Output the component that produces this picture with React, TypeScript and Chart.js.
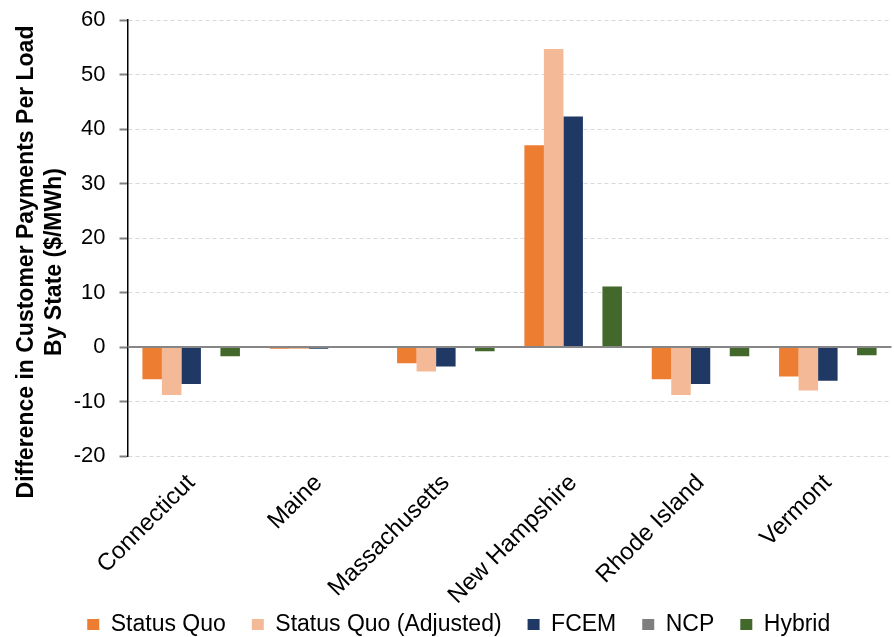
import React, { useEffect, useRef } from "react";
import { Chart, ChartConfiguration, Plugin, registerables } from "chart.js";

Chart.register(...registerables);

const states = ["Connecticut", "Maine", "Massachusetts", "New Hampshire", "Rhode Island", "Vermont"];
const statusQuo = [-5.9, -0.3, -3.0, 37.0, -5.9, -5.4];
const statusQuoAdjusted = [-8.8, -0.35, -4.5, 54.7, -8.8, -8.0];
const fcem = [-6.8, -0.3, -3.6, 42.3, -6.8, -6.2];
const ncp = [0, 0, 0, 0, 0, 0];
const hybrid = [-1.7, -0.15, -0.8, 11.1, -1.7, -1.5];

const yTitle = ["Difference in Customer Payments Per Load", "By State ($/MWh)"];
const FONT = "'Liberation Sans', Arial, sans-serif";

// solid zero line over the bars
const zeroLine: Plugin = {
    id: "zeroLine",
    afterDatasetsDraw(chart) {
        const { ctx, chartArea, scales } = chart;
        const y = scales.y.getPixelForValue(0);
        ctx.save();
        ctx.strokeStyle = "#868686";
        ctx.lineWidth = 2;
        ctx.beginPath();
        ctx.moveTo(chartArea.left, y);
        ctx.lineTo(chartArea.right, y);
        ctx.stroke();
        ctx.restore();
    },
};

// let the slanted state names run down past the axis box (they overlap the legend band in the original),
// and nudge the legend row a little right like the original
const layoutTweaks: Plugin = {
    id: "layoutTweaks",
    afterLayout(chart) {
        chart.scales.x.bottom = chart.height;
        if (chart.legend) {
            chart.legend.left += 13;
            chart.legend.right += 13;
        }
    },
};

// two-line bold axis title, placed like the original
const axisTitle: Plugin = {
    id: "axisTitle",
    afterDraw(chart) {
        const { ctx } = chart;
        ctx.save();
        ctx.fillStyle = "#000";
        ctx.font = `bold 23px ${FONT}`;
        ctx.textAlign = "center";
        ctx.textBaseline = "middle";
        ctx.translate(0, 262);
        ctx.rotate(-Math.PI / 2);
        ctx.fillText(yTitle[0], 0, 27);
        ctx.fillText(yTitle[1], 0, 55);
        ctx.restore();
    },
};

const App: React.FC = () => {
    const chartRef = useRef<HTMLCanvasElement>(null);
    const chartInstance = useRef<Chart | null>(null);

    useEffect(() => {
        if (!chartRef.current) return;
        const ctx = chartRef.current.getContext("2d");
        if (!ctx) return;
        if (chartInstance.current) chartInstance.current.destroy();

        const config: ChartConfiguration<"bar"> = {
            type: "bar",
            data: {
                labels: states,
                datasets: [
                    { label: "Status Quo", data: statusQuo, backgroundColor: "#ED7D31" },
                    { label: "Status Quo (Adjusted)", data: statusQuoAdjusted, backgroundColor: "#F4B996" },
                    { label: "FCEM", data: fcem, backgroundColor: "#203864" },
                    { label: "NCP", data: ncp, backgroundColor: "#7F7F7F" },
                    { label: "Hybrid", data: hybrid, backgroundColor: "#43682B" },
                ],
            },
            options: {
                animation: false,
                responsive: true,
                maintainAspectRatio: false,
                datasets: {
                    bar: { categoryPercentage: 0.766, barPercentage: 1, borderWidth: 0 },
                },
                layout: { padding: { top: 20, right: 2.5, bottom: -9, left: 0 } },
                scales: {
                    x: {
                        grid: { display: false, drawTicks: false },
                        border: { display: false },
                        ticks: {
                            color: "#000",
                            font: { family: FONT, size: 24 },
                            maxRotation: 45,
                            minRotation: 45,
                            padding: 13,
                        },
                        afterFit: (scale) => {
                            scale.height = 131;
                        },
                    },
                    y: {
                        min: -20,
                        max: 60,
                        ticks: {
                            stepSize: 10,
                            color: "#000",
                            font: { family: FONT, size: 22 },
                            padding: 14,
                        },
                        grid: {
                            color: "#D9D9D9",
                            lineWidth: 1,
                            tickLength: 8,
                            tickColor: "#808080",
                            tickWidth: 2,
                        },
                        border: { display: true, color: "#000", width: 1.5, dash: [4, 3] },
                        afterFit: (scale) => {
                            scale.width = 127.5;
                            scale.paddingTop = 0;
                            scale.paddingBottom = 0;
                        },
                    },
                },
                plugins: {
                    legend: {
                        position: "bottom",
                        labels: {
                            color: "#000",
                            font: { family: FONT, size: 23 },
                            boxWidth: 12,
                            boxHeight: 11,
                            padding: 26,
                        },
                    },
                    tooltip: { enabled: false },
                },
            },
            plugins: [zeroLine, layoutTweaks, axisTitle],
        };

        chartInstance.current = new Chart(ctx, config);

        return () => {
            if (chartInstance.current) {
                chartInstance.current.destroy();
                chartInstance.current = null;
            }
        };
    }, []);

    return (
        <div style={{ position: "absolute", left: 0, top: 0, width: 894, height: 637, background: "#fff" }}>
            <canvas ref={chartRef} />
        </div>
    );
};

export default App;
